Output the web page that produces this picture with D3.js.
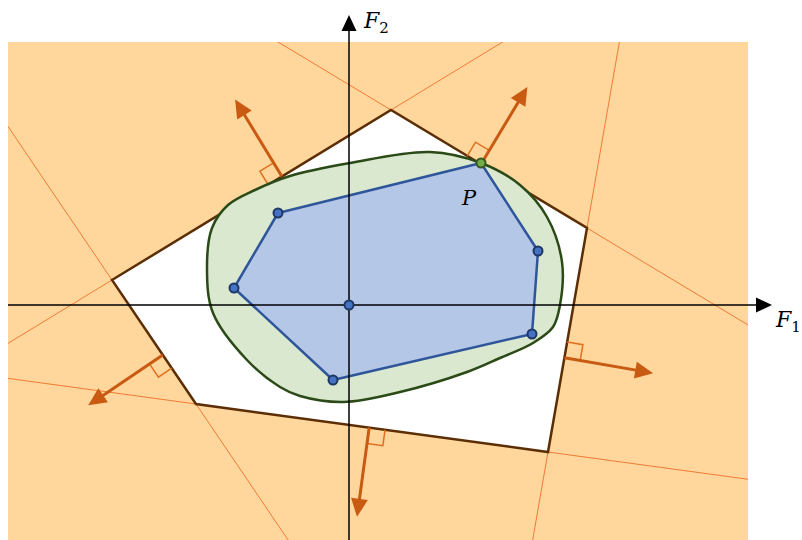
<!DOCTYPE html>
<html><head><meta charset="utf-8">
<script src="https://cdn.jsdelivr.net/npm/d3@7/dist/d3.min.js"></script>
<style>html,body{margin:0;padding:0;background:#fff}svg{display:block}</style>
</head><body>
<svg id="c" width="802" height="540"></svg>
<script>
// Feasible region (pentagon) vertices in (F1, F2) units
const pentagon = [[-23.7, 2.5], [4.2, 19.5], [23.8, 7.7], [19.9, -14.7], [-15.3, -9.9]];
// Position along each edge where the outward normal arrow starts (fraction of edge)
const arrowAt = [0.609, 0.459, 0.579, 0.508, 0.396];
// Smooth attainable set outline
const blob = [[-14.2, 3.7], [-13.7, 7.7], [-12.1, 10.0], [-9.4, 11.5], [-5.9, 12.9], [0.1, 14.2],
  [8.1, 15.3], [13.2, 14.2], [17.1, 12.0], [19.8, 8.8], [21.3, 4.3], [21.1, 0.0],
  [20.4, -2.2], [18.4, -3.8], [15.1, -5.3], [11.8, -6.7], [5.1, -8.7], [-0.6, -9.7],
  [-4.9, -9.1], [-6.9, -8.2], [-10.2, -5.5], [-13.6, -0.8]];
// Points of the inner polygon (hull order), plus an interior point
const hull = [[13.2, 14.2], [18.9, 5.4], [18.3, -2.9], [-1.6, -7.5], [-11.5, 1.7], [-7.1, 9.2]];
const inner = [[0, 0]];
const labelP = "P";

const svg = d3.select("#c");
const x = d3.scaleLinear().domain([-34.1, 39.9]).range([8, 748]);
const y = d3.scaleLinear().domain([-23.5, 26.3]).range([540, 42]);
const X0 = x(-34.1), X1 = x(39.9), Y0 = y(26.3), Y1 = y(-23.5);

svg.append("defs").append("clipPath").attr("id", "clip")
  .append("rect").attr("x", X0).attr("y", Y0).attr("width", X1 - X0).attr("height", Y1 - Y0);

svg.append("rect").attr("x", X0).attr("y", Y0).attr("width", X1 - X0).attr("height", Y1 - Y0)
  .attr("fill", "#ffd69c");

const P = pentagon.map(d => [x(d[0]), y(d[1])]);
const n = P.length;

// extended edge lines
const g = svg.append("g").attr("clip-path", "url(#clip)");
for (let i = 0; i < n; i++) {
  const a = P[i], b = P[(i + 1) % n];
  const dx = b[0] - a[0], dy = b[1] - a[1];
  const L = Math.hypot(dx, dy), ux = dx / L, uy = dy / L;
  g.append("line")
    .attr("x1", a[0] - ux * 2000).attr("y1", a[1] - uy * 2000)
    .attr("x2", b[0] + ux * 2000).attr("y2", b[1] + uy * 2000)
    .attr("stroke", "#f07c35").attr("stroke-width", 1);
}

svg.append("path").attr("d", "M" + P.join("L") + "Z")
  .attr("fill", "#fff").attr("stroke", "#5c2e05").attr("stroke-width", 2.5)
  .attr("stroke-linejoin", "miter");

// normals
const arrowLen = 90, sq = 16;
for (let i = 0; i < n; i++) {
  const a = P[i], b = P[(i + 1) % n];
  const dx = b[0] - a[0], dy = b[1] - a[1];
  const L = Math.hypot(dx, dy), ux = dx / L, uy = dy / L;
  const nx = uy, ny = -ux;
  const t = arrowAt[i];
  const bx = a[0] + dx * t, by = a[1] + dy * t;
  svg.append("path")
    .attr("d", `M${bx - ux * sq},${by - uy * sq}L${bx - ux * sq + nx * sq},${by - uy * sq + ny * sq}L${bx + nx * sq},${by + ny * sq}`)
    .attr("fill", "none").attr("stroke", "#e0701f").attr("stroke-width", 1.5);
  const tx = bx + nx * arrowLen, ty = by + ny * arrowLen;
  const hl = 18, hw = 8.5;
  const hx = tx - nx * hl, hy = ty - ny * hl;
  svg.append("line").attr("x1", bx).attr("y1", by).attr("x2", hx + nx * 2).attr("y2", hy + ny * 2)
    .attr("stroke", "#c85a12").attr("stroke-width", 3);
  svg.append("path")
    .attr("d", `M${tx},${ty}L${hx + ux * hw},${hy + uy * hw}L${hx - ux * hw},${hy - uy * hw}Z`)
    .attr("fill", "#c85a12");
}

// blob
const line = d3.line().x(d => x(d[0])).y(d => y(d[1])).curve(d3.curveCatmullRomClosed.alpha(0.5));
svg.append("path").attr("d", line(blob))
  .attr("fill", "#d9e8cf").attr("stroke", "#2b4a17").attr("stroke-width", 2.5);

// hull polygon
svg.append("path").attr("d", "M" + hull.map(d => [x(d[0]), y(d[1])]).join("L") + "Z")
  .attr("fill", "#b4c7e7").attr("stroke", "#2f559a").attr("stroke-width", 2.5)
  .attr("stroke-linejoin", "round");

// axes
const ox = x(0), oy = y(0);
svg.append("line").attr("x1", X0).attr("y1", oy).attr("x2", 758).attr("y2", oy)
  .attr("stroke", "#000").attr("stroke-width", 1.5);
svg.append("path").attr("d", `M772,${oy}L756,${oy - 7.5}L756,${oy + 7.5}Z`).attr("fill", "#000");
svg.append("line").attr("x1", ox).attr("y1", Y1).attr("x2", ox).attr("y2", 30)
  .attr("stroke", "#000").attr("stroke-width", 1.5);
svg.append("path").attr("d", `M${ox},15L${ox - 7.5},31L${ox + 7.5},31Z`).attr("fill", "#000");

// points
const pts = hull.slice(1).concat(inner);
svg.selectAll("circle.pt").data(pts).join("circle").attr("class", "pt")
  .attr("cx", d => x(d[0])).attr("cy", d => y(d[1])).attr("r", 4.5)
  .attr("fill", "#4472c4").attr("stroke", "#1f3864").attr("stroke-width", 2);
svg.append("circle").attr("cx", x(hull[0][0])).attr("cy", y(hull[0][1])).attr("r", 4.5)
  .attr("fill", "#70ad47").attr("stroke", "#375623").attr("stroke-width", 2);

// labels
const font = "'DejaVu Serif', 'Liberation Serif', serif";
function axisLabel(tx, ty, sub) {
  const t = svg.append("text").attr("x", tx).attr("y", ty)
    .attr("font-family", font).attr("font-size", 22).attr("fill", "#000");
  t.append("tspan").attr("font-style", "italic").text("F");
  t.append("tspan").attr("font-size", 15).attr("dy", 5).text(sub);
}
axisLabel(364, 28, "2");
axisLabel(776, 327, "1");
svg.append("text").attr("x", 462).attr("y", 205).attr("font-family", font)
  .attr("font-style", "italic").attr("font-size", 21).attr("fill", "#000").text(labelP);
</script>
</body></html>
